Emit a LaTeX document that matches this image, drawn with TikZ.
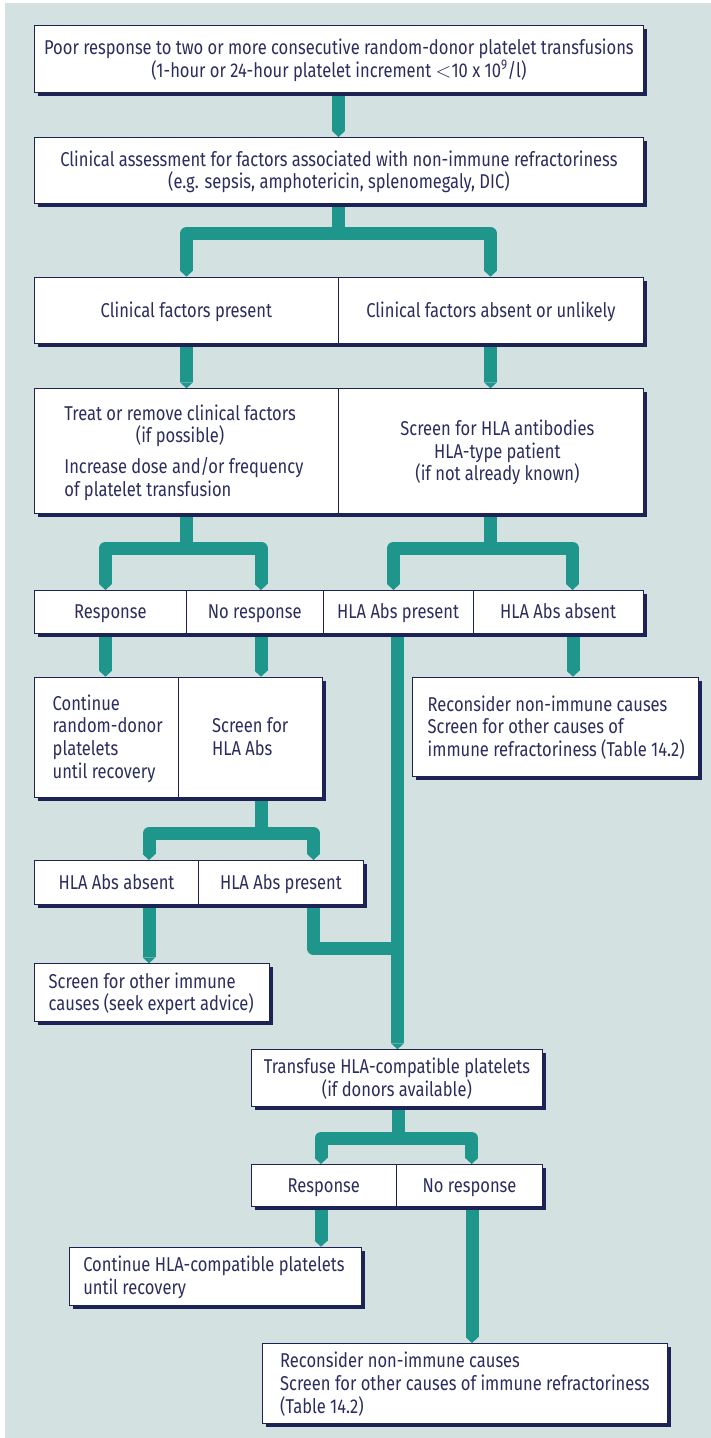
\documentclass[tikz,border=0pt]{standalone}
\usepackage{fontspec}
\setmainfont{Fira Sans}[FakeStretch=0.826]
\usepackage{array}
\usetikzlibrary{arrows.meta,shadows,backgrounds}

\definecolor{bgc}{HTML}{D3E2E1}
\definecolor{flowc}{HTML}{1F968C}
\definecolor{navy}{HTML}{1E2355}
\definecolor{ink}{HTML}{2B2D5E}

% every text line gets the same strut: 18.35pt above, 4.35pt below the baseline
\newcommand\linestrut{\rule[-4.35pt]{0pt}{22.7pt}}
\renewcommand\arraystretch{0}
\newcolumntype{L}{>{\linestrut}l}
\newcolumntype{C}{>{\linestrut}c}
\newlength\firstline
% left-aligned text block in a cell of width #1, indented by #2
\newcommand\leftcell[3]{\makebox[#1][l]{\hspace*{#2}\begin{tabular}{@{}L@{}}#3\end{tabular}}}
% centred text block
\newcommand\midcell[1]{\begin{tabular}{@{}C@{}}#1\end{tabular}}

\tikzset{
  cell/.style={draw=navy, line width=0.8pt, fill=white, inner sep=0pt,
    anchor=north west, text=ink,
    drop shadow={shadow xshift=3.5pt, shadow yshift=-3.5pt, fill=navy, opacity=1}},
  flowline/.style={draw=flowc, line width=13pt, line join=round},
  flow/.style={flowline, -{Triangle[length=6pt,width=13pt,line width=0pt]}},
  fork/.style={flowline, {Triangle[length=6pt,width=13pt,line width=0pt]}-{Triangle[length=6pt,width=13pt,line width=0pt]}},
}

\begin{document}
\begin{tikzpicture}[x=1pt,y=-1pt,font=\fontsize{20}{22.7}\selectfont]
\useasboundingbox (0,0) rectangle (711,1438);
\begin{scope}[on background layer]
  \fill[bgc] (5,3) rectangle (711,1438);
\end{scope}

% ---- boxes ----
\node[cell, minimum width=609pt, minimum height=67pt] (b1) at (34,25)
  {\midcell{Poor response to two or more consecutive random-donor platelet transfusions\\
   (1-hour or 24-hour platelet increment $<$10 x 10\textsuperscript{9}/l)}};
\node[cell, minimum width=609pt, minimum height=66pt] (b2) at (34,137)
  {\midcell{Clinical assessment for factors associated with non-immune refractoriness\\
   (e.g. sepsis, amphotericin, splenomegaly, DIC)}};

\node[cell, minimum width=304pt, minimum height=66.6pt] (c3a) at (34,276.7)
  {\midcell{Clinical factors present}};
\node[cell, minimum width=305pt, minimum height=66.6pt] (c3b) at (338,276.7)
  {\midcell{Clinical factors absent or unlikely}};

\node[cell, minimum width=304pt, minimum height=125pt] (c4a) at (34,388.3)
  {\settowidth\firstline{Treat or remove clinical factors}%
   \leftcell{304pt}{30pt}{Treat or remove clinical factors\\
   \makebox[\firstline]{(if possible)}\\[12.65pt]
   Increase dose and/or frequency\\
   of platelet transfusion}};
\node[cell, minimum width=305pt, minimum height=125pt] (c4b) at (338,388.3)
  {\hspace*{13pt}\midcell{Screen for HLA antibodies\\HLA-type patient\\(if not already known)}};

\node[cell, minimum width=152pt, minimum height=42.7pt] (c5a) at (34,590) {\midcell{Response}};
\node[cell, minimum width=136.7pt, minimum height=42.7pt] (c5b) at (186,590) {\midcell{No response}};
\node[cell, minimum width=150pt, minimum height=42.7pt] (c5c) at (322.7,590) {\midcell{HLA Abs present}};
\node[cell, minimum width=170pt, minimum height=42.7pt] (c5d) at (472.7,590) {\midcell{HLA Abs absent}};

\node[cell, minimum width=143.7pt, minimum height=120pt] (c6a) at (34,676.7)
  {\leftcell{143.7pt}{18.3pt}{Continue\\random-donor\\platelets\\until recovery}};
\node[cell, minimum width=144pt, minimum height=120pt] (c6b) at (177.7,676.7)
  {\leftcell{144pt}{34pt}{Screen for\\HLA Abs}};

\node[cell, minimum width=286.6pt, minimum height=99.3pt] (b7) at (411.7,676.7)
  {\leftcell{286.6pt}{15.6pt}{Reconsider non-immune causes\\Screen for other causes of\\
   immune refractoriness (Table 14.2)}};

\node[cell, minimum width=164.3pt, minimum height=44.3pt] (c8a) at (34,860) {\midcell{HLA Abs absent}};
\node[cell, minimum width=164.4pt, minimum height=44.3pt] (c8b) at (198.3,860) {\midcell{HLA Abs present}};

\node[cell, minimum width=235.3pt, minimum height=57.4pt] (b9) at (34,963.3)
  {\leftcell{235.3pt}{14.3pt}{Screen for other immune\\causes (seek expert advice)}};

\node[cell, minimum width=291.6pt, minimum height=56.7pt] (b10) at (250.7,1049.3)
  {\midcell{Transfuse HLA-compatible platelets\\(if donors available)}};

\node[cell, minimum width=145.3pt, minimum height=41.7pt] (c11a) at (250.7,1164) {\midcell{Response}};
\node[cell, minimum width=146.3pt, minimum height=41.7pt] (c11b) at (396,1164) {\midcell{No response}};

\node[cell, minimum width=291.7pt, minimum height=58.3pt] (b12) at (69,1246.7)
  {\leftcell{291.7pt}{13.9pt}{Continue HLA-compatible platelets\\until recovery}};
\node[cell, minimum width=404.8pt, minimum height=80.3pt] (b13) at (262,1343)
  {\leftcell{404.8pt}{17.8pt}{Reconsider non-immune causes\\
   Screen for other causes of immune refractoriness\\(Table 14.2)}};

% ---- connectors ----
\begin{scope}[on background layer]
  \draw[flow] (b1.south -| 338.5,0) -- (b2.north -| 338.5,0);

  \draw[flowline] (b2.south -| 338.5,0) -- (338.5,233.5);
  \draw[fork] (c3a.north -| 186.5,0) -- (186.5,233.5) -- (490.5,233.5) -- (c3b.north -| 490.5,0);

  \draw[flow] (c3a.south -| 186.5,0) -- (c4a.north -| 186.5,0);
  \draw[flow] (c3b.south -| 490.5,0) -- (c4b.north -| 490.5,0);

  \draw[flowline] (c4a.south -| 186.5,0) -- (186.5,548);
  \draw[fork] (c5a.north -| 105.5,0) -- (105.5,548) -- (261,548) -- (c5b.north -| 261,0);
  \draw[flowline] (c4b.south -| 490.5,0) -- (490.5,548);
  \draw[fork] (c5c.north -| 393.5,0) -- (393.5,548) -- (572.5,548) -- (c5d.north -| 572.5,0);

  \draw[flow] (c5a.south -| 105.5,0) -- (c6a.north -| 105.5,0);
  \draw[flow] (c5b.south -| 261,0) -- (c6b.north -| 261,0);
  \draw[flow] (c5d.south -| 573,0) -- (b7.north -| 573,0);

  \draw[flowline] (c6b.south -| 261,0) -- (261,833.5);
  \draw[fork] (c8a.north -| 149,0) -- (149,833.5) -- (313.5,833.5) -- (c8b.north -| 313.5,0);

  \draw[flow] (c8a.south -| 149,0) -- (b9.north -| 149,0);

  \draw[flowline] (c8b.south -| 313,0) -- (313,948) -- (397.5,948);
  \draw[flow] (c5c.south -| 397.5,0) -- (b10.north -| 397.5,0);

  \draw[flowline] (b10.south -| 398,0) -- (398,1138);
  \draw[fork] (c11a.north -| 321,0) -- (321,1138) -- (471.7,1138) -- (c11b.north -| 471.7,0);

  \draw[flow] (c11a.south -| 321,0) -- (b12.north -| 321,0);
  \draw[flow] (c11b.south -| 472,0) -- (b13.north -| 472,0);
\end{scope}
\end{tikzpicture}
\end{document}
